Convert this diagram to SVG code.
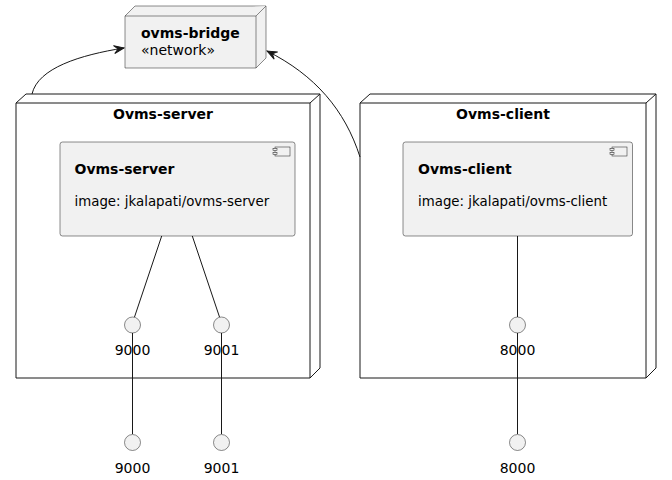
<svg xmlns="http://www.w3.org/2000/svg" width="672" height="480" viewBox="0 0 672 480">
<style>
text{font-family:"DejaVu Sans","Liberation Sans",sans-serif;font-size:14px;fill:#000}
.b{font-weight:bold}
.s{font-size:13.35px}
.node{fill:#fff;stroke:#181818;stroke-width:1}
.net{fill:#F1F1F1;stroke:#181818;stroke-width:0.5}
.comp{fill:#F1F1F1;stroke:#181818;stroke-width:0.5}
.port{fill:#F1F1F1;stroke:#181818;stroke-width:0.5}
.ln{fill:none;stroke:#181818;stroke-width:1}
</style>
<defs>
<marker id="arr" markerUnits="userSpaceOnUse" markerWidth="12" markerHeight="12" viewBox="-11 -6 12 12" refX="0" refY="0" orient="auto">
<path d="M0,0 L-10,-4 L-6,0 L-10,4 Z" fill="#181818" stroke="#181818" stroke-width="1"/>
</marker>
</defs>
<g id="ovms-bridge">
<path class="net" d="M125,16 L135,6 L266,6 L266,58 L256,68 L125,68 Z"/>
<path class="net" d="M125,16 L256,16 L266,6 M256,16 L256,68" fill="none"/>
<text class="b" x="141" y="38">ovms-bridge</text>
<text x="141" y="54.5">«network»</text>
</g>
<g id="node-ovms-server">
<path class="node" d="M16,103 L26,94 L320,94 L320,368 L310,378 L16,378 Z"/>
<path class="ln" d="M16,103 L310,103 L320,94 M310,103 L310,378"/>
<text class="b" x="163" y="119" text-anchor="middle">Ovms-server</text>
</g>
<g id="node-ovms-client">
<path class="node" d="M360,103 L370,94 L656,94 L656,368 L646,378 L360,378 Z"/>
<path class="ln" d="M360,103 L646,103 L656,94 M646,103 L646,378"/>
<text class="b" x="503" y="119" text-anchor="middle">Ovms-client</text>
</g>
<g id="comp-ovms-server">
<rect class="comp" x="60" y="142" width="235" height="94" rx="2.5"/>
<rect x="275" y="147" width="15" height="9" fill="#F1F1F1" stroke="#181818" stroke-width="0.5"/>
<rect x="273" y="148.5" width="4" height="2" fill="#F1F1F1" stroke="#181818" stroke-width="0.5"/>
<rect x="273" y="152.5" width="4" height="2" fill="#F1F1F1" stroke="#181818" stroke-width="0.5"/>
<text class="b" x="74.5" y="174">Ovms-server</text>
<text class="s" x="74.5" y="206">image: jkalapati/ovms-server</text>
</g>
<g id="comp-ovms-client">
<rect class="comp" x="403" y="142" width="229.5" height="94" rx="2.5"/>
<rect x="612" y="147" width="15" height="9" fill="#F1F1F1" stroke="#181818" stroke-width="0.5"/>
<rect x="610" y="148.5" width="4" height="2" fill="#F1F1F1" stroke="#181818" stroke-width="0.5"/>
<rect x="610" y="152.5" width="4" height="2" fill="#F1F1F1" stroke="#181818" stroke-width="0.5"/>
<text class="b" x="418" y="174">Ovms-client</text>
<text class="s" x="418" y="206">image: jkalapati/ovms-client</text>
</g>
<g id="connectors">
<path class="ln" d="M32,94 C38,68 80,55 124,48" marker-end="url(#arr)"/>
<path class="ln" d="M360,157 C345,110 315,75 267,51" marker-end="url(#arr)"/>
<line class="ln" x1="161.7" y1="236" x2="134.5" y2="317"/>
<line class="ln" x1="192.3" y1="236" x2="219.5" y2="317"/>
<line class="ln" x1="517.5" y1="236" x2="517.5" y2="317"/>
<line class="ln" x1="132.5" y1="330" x2="132.5" y2="434"/>
<line class="ln" x1="221.5" y1="330" x2="221.5" y2="434"/>
<line class="ln" x1="517.5" y1="330" x2="517.5" y2="434"/>
</g>
<g id="port-s9000">
<circle class="port" cx="132.5" cy="325" r="8"/>
<text x="132.5" y="355" text-anchor="middle">9000</text>
</g>
<g id="port-s9001">
<circle class="port" cx="221.5" cy="325" r="8"/>
<text x="221.5" y="355" text-anchor="middle">9001</text>
</g>
<g id="port-c8000">
<circle class="port" cx="517.5" cy="325" r="8"/>
<text x="517.5" y="355" text-anchor="middle">8000</text>
</g>
<g id="ext-9000">
<circle class="port" cx="132.5" cy="442.5" r="8"/>
<text x="132.5" y="473" text-anchor="middle">9000</text>
</g>
<g id="ext-9001">
<circle class="port" cx="221.5" cy="442.5" r="8"/>
<text x="221.5" y="473" text-anchor="middle">9001</text>
</g>
<g id="ext-8000">
<circle class="port" cx="517.5" cy="442.5" r="8"/>
<text x="517.5" y="473" text-anchor="middle">8000</text>
</g>
</svg>
